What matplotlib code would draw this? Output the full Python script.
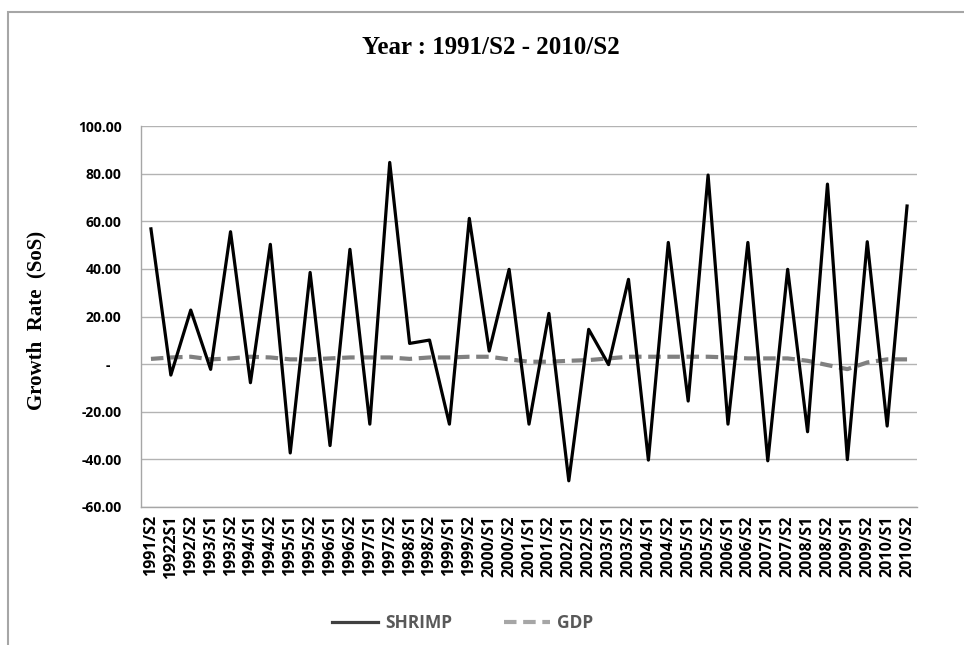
import matplotlib
matplotlib.use("Agg")
import matplotlib.pyplot as plt
from matplotlib.ticker import FuncFormatter, MultipleLocator
from matplotlib.lines import Line2D
from matplotlib.patches import Rectangle

categories = ["1991/S2", "19922S1", "1992/S2", "1993/S1", "1993/S2", "1994/S1", "1994/S2",
              "1995/S1", "1995/S2", "1996/S1", "1996/S2", "1997/S1", "1997/S2", "1998/S1",
              "1998/S2", "1999/S1", "1999/S2", "2000/S1", "2000/S2", "2001/S1", "2001/S2",
              "2002/S1", "2002/S2", "2003/S1", "2003/S2", "2004/S1", "2004/S2", "2005/S1",
              "2005/S2", "2006/S1", "2006/S2", "2007/S1", "2007/S2", "2008/S1", "2008/S2",
              "2009/S1", "2009/S2", "2010/S1", "2010/S2"]

shrimp = [56.8, -4.6, 22.7, -2.2, 55.6, -7.8, 50.3, -37.3, 38.5, -34.2, 48.2, -25.2, 84.7,
          8.7, 10.1, -25.2, 61.2, 5.5, 39.8, -25.2, 21.3, -49.0, 14.6, -0.2, 35.6, -40.3,
          51.1, -15.5, 79.4, -25.2, 51.1, -40.6, 39.8, -28.4, 75.6, -40.1, 51.4, -26.0, 66.4]

gdp = [2.2, 2.8, 3.1, 2.0, 2.4, 3.1, 2.8, 2.0, 2.0, 2.4, 2.8, 2.8, 2.8, 2.2, 2.8, 2.8, 3.1,
       3.1, 2.0, 1.0, 1.0, 1.4, 1.7, 2.4, 3.1, 3.1, 3.1, 3.1, 3.1, 2.8, 2.4, 2.4, 2.4, 1.4,
       -0.4, -2.1, 0.7, 2.0, 2.0]

fig = plt.figure(figsize=(9.64, 6.45), dpi=100)
# outer frame (top and left visible)
fig.patches.append(Rectangle((8 / 964, -0.1), 1.2, (645 - 12) / 645 + 0.1,
                             transform=fig.transFigure, fill=False,
                             edgecolor="#a6a6a6", lw=1.5, zorder=0))

ax = fig.add_axes([141 / 964, (645 - 507) / 645, (917 - 141) / 964, (507 - 126) / 645])
x = list(range(len(categories)))

ax.plot(x, gdp, color="#808080", lw=3, linestyle=(0, (3, 1.6)), zorder=3, label="GDP")
ax.plot(x, shrimp, color="black", lw=2.3, zorder=4, label="SHRIMP")

ax.set_xlim(-0.5, len(categories) - 0.5)
ax.set_ylim(-60, 100)
ax.yaxis.set_major_locator(MultipleLocator(20))
ax.yaxis.set_major_formatter(FuncFormatter(lambda v, p: "-   " if abs(v) < 1e-9 else f"{v:.2f}"))
ax.grid(axis="y", color="#b3b3b3", lw=1)
ax.set_axisbelow(True)
for s in ["top", "right"]:
    ax.spines[s].set_visible(False)
for s in ["left", "bottom"]:
    ax.spines[s].set_color("#a6a6a6")
    ax.spines[s].set_linewidth(1)

ax.set_xticks(x)
ax.set_xticklabels(categories, rotation=90, fontsize=11.5, fontweight="bold",
                   family=["Open Sans", "DejaVu Sans"])
ax.tick_params(axis="x", length=0, pad=6)
ax.tick_params(axis="y", length=0, pad=14)
for lab in ax.get_yticklabels():
    lab.set_fontsize(10)
    lab.set_fontweight("bold")
    lab.set_family(["Open Sans", "DejaVu Sans"])

fig.text(491 / 964, 1 - 47 / 645, "Year : 1991/S2 - 2010/S2", ha="center", va="center",
         fontsize=18, fontweight="bold", family="Liberation Serif")
fig.text(36 / 964, 1 - 320 / 645, "Growth  Rate  (SoS)", ha="center", va="center",
         rotation=90, fontsize=15, fontweight="bold", family="Liberation Serif")

handles = [Line2D([], [], color="#404040", lw=2.3),
           Line2D([], [], color="#a6a6a6", lw=3, linestyle=(0, (3, 1.6)))]
leg = fig.legend(handles, ["SHRIMP", "GDP"], loc="center", bbox_to_anchor=(463 / 964, 1 - 623 / 645),
                 ncol=2, frameon=False, handlelength=2.6, columnspacing=3.0, handletextpad=0.45,
                 prop={"family": "Open Sans", "weight": "bold", "size": 12.5})
for t in leg.get_texts():
    t.set_color("#595959")

fig.savefig("out.png", dpi=100)
